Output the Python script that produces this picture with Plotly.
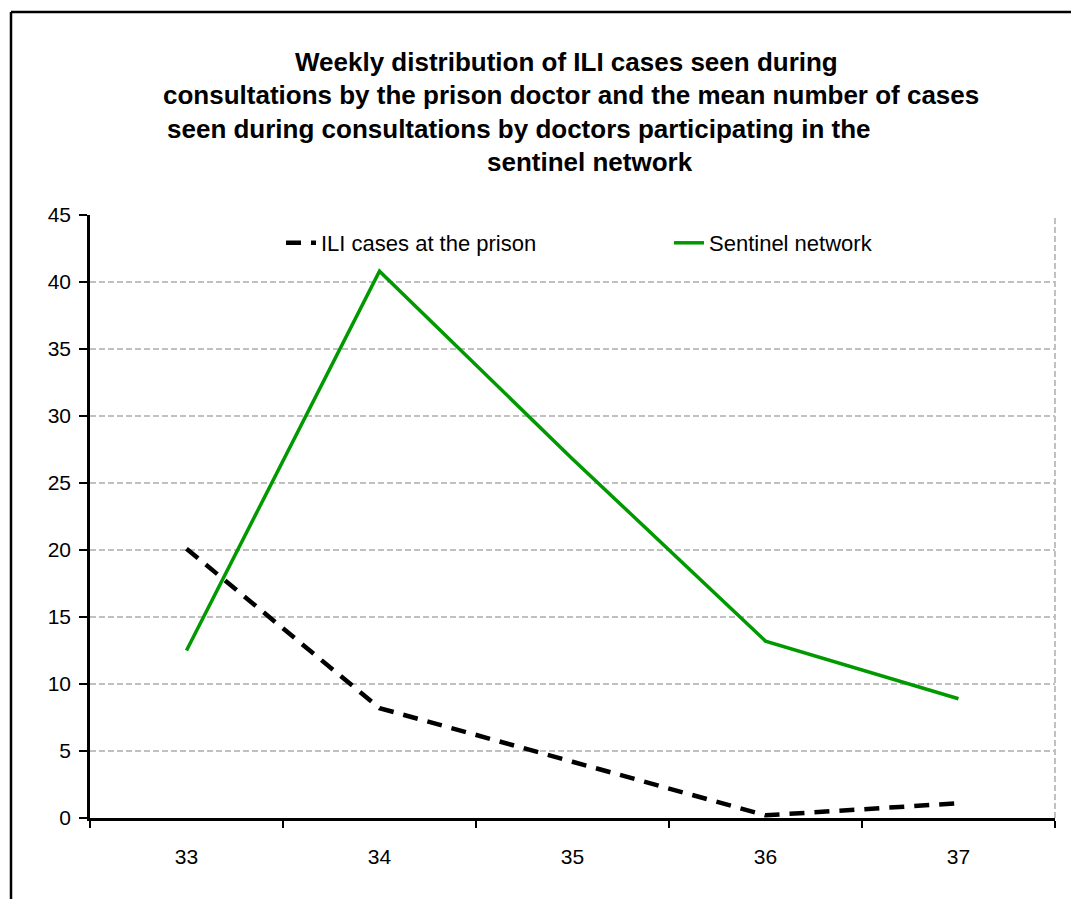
import plotly.graph_objects as go

weeks = ["33", "34", "35", "36", "37"]
prison_cases = [20.1, 8.2, 4.2, 0.2, 1.1]
sentinel_cases = [12.5, 40.8, 26.8, 13.2, 8.9]
y_ticks = [0, 5, 10, 15, 20, 25, 30, 35, 40, 45]
title_lines = [
    "Weekly distribution of ILI cases seen during",
    "consultations by the prison doctor and the mean number of cases",
    "seen during consultations by doctors participating in the",
    "sentinel network",
]

W, H = 1072, 899
L, R, T, B = 90, 1055, 215, 818
def px_x(p):
    return (p - L) / (R - L)
def px_y(p):
    return (B - p) / (B - T)

FONT = "Liberation Sans, Arial, sans-serif"

fig = go.Figure()
fig.add_trace(go.Scatter(
    x=weeks, y=prison_cases, mode="lines", name="ILI cases at the prison",
    line=dict(color="black", width=4.5, dash="15px,10px"),
))
fig.add_trace(go.Scatter(
    x=weeks, y=sentinel_cases, mode="lines", name="Sentinel network",
    line=dict(color="#009900", width=3.5),
))

title_centers = [566, 571, 519, 590]
title_ys = [62, 95, 129, 162]
annotations = []
for txt, cx, cy in zip(title_lines, title_centers, title_ys):
    annotations.append(dict(
        text="<b>%s</b>" % txt, x=px_x(cx), y=px_y(cy), xref="paper", yref="paper",
        xanchor="center", yanchor="middle", showarrow=False,
        font=dict(family=FONT, size=26, color="black"),
    ))

shapes = [
    dict(type="line", xref="paper", yref="paper", x0=1, x1=1, y0=0, y1=1,
         line=dict(color="#c0c0c0", width=2, dash="6px,3px"), layer="below"),
    dict(type="line", xref="paper", yref="paper", x0=px_x(11), x1=px_x(11),
         y0=px_y(12), y1=px_y(905), line=dict(color="black", width=2.5)),
    dict(type="line", xref="paper", yref="paper", x0=px_x(11), x1=px_x(1071),
         y0=px_y(12), y1=px_y(12), line=dict(color="black", width=2.5)),
]

fig.update_layout(
    width=W, height=H,
    margin=dict(l=L, r=W - R, t=T, b=H - B, pad=0, autoexpand=False),
    paper_bgcolor="white", plot_bgcolor="white",
    font=dict(family=FONT, size=21, color="black"),
    showlegend=True,
    legend=dict(
        orientation="h", x=px_x(281), y=px_y(243), xanchor="left", yanchor="middle",
        bgcolor="rgba(0,0,0,0)", font=dict(family=FONT, size=22, color="black"),
        entrywidth=343, entrywidthmode="pixels", itemwidth=30,
    ),
    annotations=annotations,
    shapes=shapes,
)
fig.update_xaxes(
    type="category", range=[-0.5, 4.5], showgrid=False, zeroline=False,
    showline=True, linecolor="black", linewidth=3, automargin=False,
    ticks="outside", ticklen=7, tickwidth=2, tickcolor="black", tickson="boundaries",
    tickfont=dict(family=FONT, size=21), ticklabelstandoff=18,
)
fig.update_yaxes(
    range=[0, 45], tickvals=y_ticks, showgrid=True, gridcolor="#c0c0c0", gridwidth=2,
    griddash="6px,3px", zeroline=False, automargin=False,
    showline=True, linecolor="black", linewidth=2.5,
    ticks="outside", ticklen=8, tickwidth=2, tickcolor="black",
    tickfont=dict(family=FONT, size=21), ticklabelstandoff=4,
)

fig.write_html(
    "out.html",
    config={"displayModeBar": False},
    post_script="document.body.style.margin='0';document.body.style.overflow='hidden';",
)
